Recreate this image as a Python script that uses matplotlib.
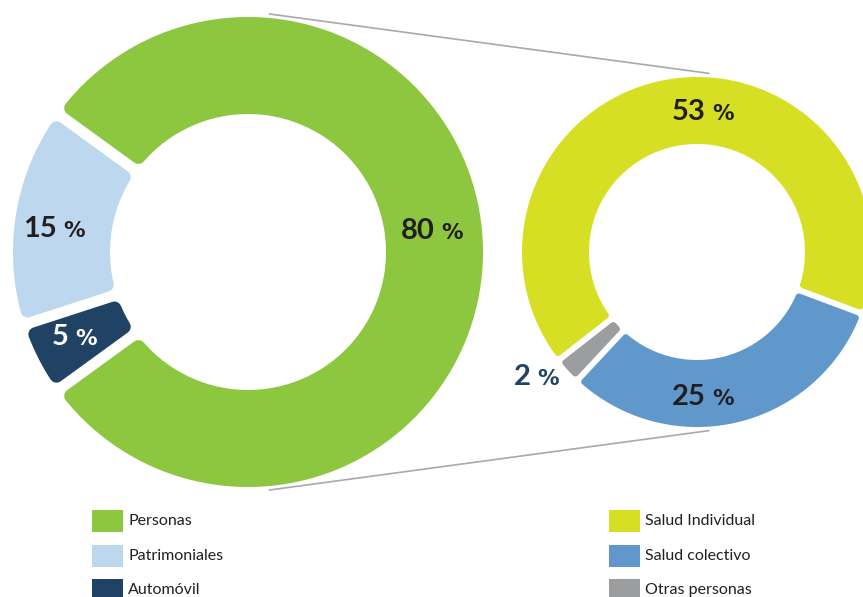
import numpy as np
import matplotlib
matplotlib.use('Agg')
import matplotlib.pyplot as plt
from matplotlib.patches import Polygon, Rectangle

plt.rcParams['font.family'] = ['Lato', 'DejaVu Sans']

# ---------------- data ----------------
main_labels = ['Personas', 'Patrimoniales', 'Automóvil']
main_values = [80, 15, 5]
main_colors = ['#8dc63f', '#bdd7ee', '#204264']

sub_labels = ['Salud Individual', 'Salud colectivo', 'Otras personas']
sub_values = [53, 25, 2]
sub_colors = ['#d6df24', '#6198cc', '#9b9d9e']

# ---------------- layout (pixels) ----------------
W, H = 863, 597
L_CENTER, L_RO, L_RI = (248, 252), 235, 138
R_CENTER, R_RO, R_RI = (697, 252), 175, 108

# label anchors: (x of split between number and '%', baseline y, colour)
main_label_pos = [(438, 239, '#231f20'), (60, 237, '#231f20'), (72, 345, 'white')]
sub_label_pos = [(709, 120, '#231f20'), (709, 405, '#231f20'), (534, 385, '#204264')]

fig = plt.figure(figsize=(W / 100, H / 100), dpi=100)
ax = fig.add_axes([0, 0, 1, 1])
ax.set_xlim(0, W)
ax.set_ylim(H, 0)
ax.axis('off')


def ring(ax, values, colors, center, r_out, r_in, start, clockwise, gap, corner):
    total = float(sum(values))
    cx, cy = center
    sign = -1 if clockwise else 1
    angles = start + sign * np.concatenate([[0], np.cumsum(values)]) / total * 360
    for i, c in enumerate(colors):
        a1, a2 = sorted([angles[i], angles[i + 1]])
        ro, ri, s = r_out - corner, r_in + corner, gap / 2 + corner
        pts = []
        for r, rev in ((ro, False), (ri, True)):
            d = np.degrees(np.arcsin(min(s / r, 1)))
            b1, b2 = a1 + d, a2 - d
            if b2 < b1:
                b1 = b2 = (a1 + a2) / 2
            t = np.radians(np.linspace(b1, b2, 200))
            if rev:
                t = t[::-1]
            pts.append(np.column_stack([cx + r * np.cos(t), cy - r * np.sin(t)]))
        ax.add_patch(Polygon(np.vstack(pts), closed=True, facecolor=c, edgecolor=c,
                             linewidth=2 * corner * 0.72, joinstyle='round', zorder=2))


ring(ax, main_values, main_colors, L_CENTER, L_RO, L_RI, start=-144, clockwise=False, gap=11, corner=7)
ring(ax, sub_values, sub_colors, R_CENTER, R_RO, R_RI, start=218, clockwise=True, gap=6, corner=3)

# connector lines
for sgn in (1, -1):
    a_l, a_r = np.radians(85 * sgn), np.radians(86 * sgn)
    x0 = L_CENTER[0] + (L_RO + 4) * np.cos(a_l)
    y0 = L_CENTER[1] - (L_RO + 4) * np.sin(a_l)
    x1 = R_CENTER[0] + (R_RO + 4) * np.cos(a_r)
    y1 = R_CENTER[1] - (R_RO + 4) * np.sin(a_r)
    ax.plot([x0, x1], [y0, y1], color='#a7a9ac', lw=1.2, zorder=1, solid_capstyle='butt')


def pct_label(ax, value, x, y, color):
    ax.text(x - 3, y, f'{value}', ha='right', va='baseline', fontsize=21,
            fontweight='bold', color=color, zorder=3)
    ax.text(x + 3, y, '%', ha='left', va='baseline', fontsize=15.5,
            fontweight='bold', family='DejaVu Sans', color=color, zorder=3)


for v, (x, y, c) in zip(main_values, main_label_pos):
    pct_label(ax, v, x, y, c)
for v, (x, y, c) in zip(sub_values, sub_label_pos):
    pct_label(ax, v, x, y, c)

# legends (manual swatches)
for labels, colors, x0 in ((main_labels, main_colors, 92), (sub_labels, sub_colors, 609)):
    for k, (l, c) in enumerate(zip(labels, colors)):
        y0 = 510 + 34.5 * k
        ax.add_patch(Rectangle((x0, y0), 31, 22, facecolor=c, edgecolor='none', zorder=2))
        ax.text(x0 + 36, y0 + 11, l, ha='left', va='center', fontsize=11.5,
                color='#231f20', zorder=3)

fig.savefig('out.png', dpi=100)
